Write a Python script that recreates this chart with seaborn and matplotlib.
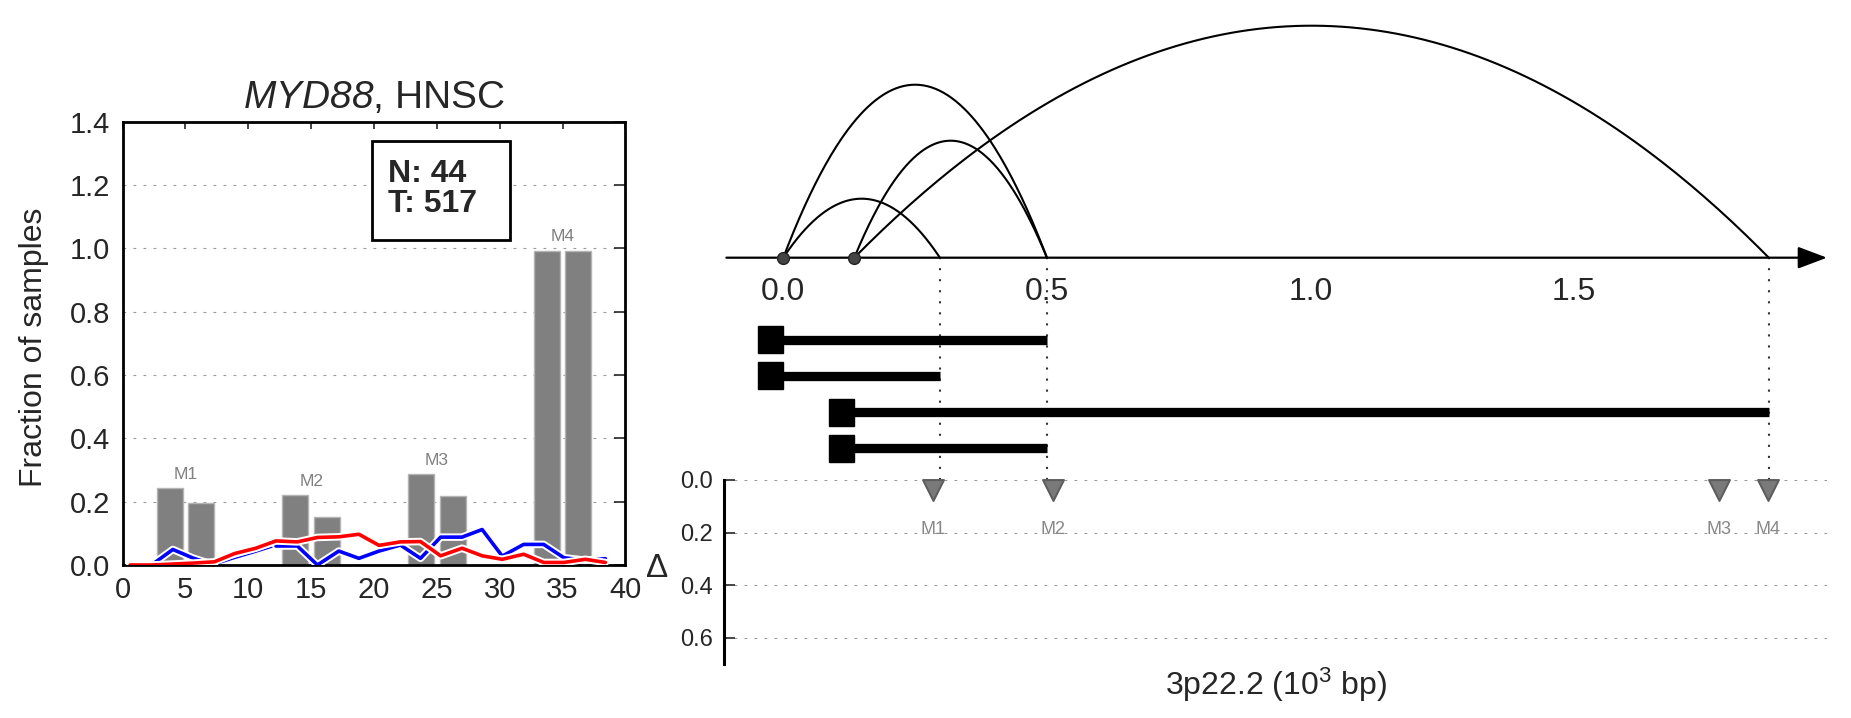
import numpy as np
import pandas as pd
import matplotlib
matplotlib.use('Agg')
import matplotlib.pyplot as plt
import matplotlib.patheffects as pe
from matplotlib.patches import Rectangle
import seaborn as sns

# ---- left panel data: fraction of samples per motif ----
bar_x = [3.75, 6.25, 13.75, 16.25, 23.75, 26.25, 33.75, 36.25]
bar_h = [0.242, 0.195, 0.221, 0.150, 0.286, 0.218, 0.993, 0.993]
motif_names = ['M1', 'M2', 'M3', 'M4']
motif_centers = [5, 15, 25, 35]

line_x = [0.6, 2.3, 4.0, 5.6, 7.3, 8.9, 10.6, 12.2, 13.9, 15.5, 17.2, 18.8,
          20.4, 22.1, 23.7, 25.3, 27.0, 28.6, 30.2, 31.9, 33.5, 35.1, 36.8, 38.4]
red_frac = [0.0, 0.0, 0.003, 0.006, 0.01, 0.036, 0.053, 0.076, 0.073, 0.087, 0.089, 0.097,
            0.062, 0.073, 0.074, 0.029, 0.053, 0.029, 0.018, 0.034, 0.008, 0.008, 0.018, 0.008]
blue_frac = [0.0, 0.0, 0.049, 0.022, 0.0, np.nan, np.nan, 0.06, 0.06, 0.0, 0.044, 0.021,
             0.044, 0.063, 0.021, 0.088, 0.088, 0.112, 0.028, 0.065, 0.065, 0.023, 0.015, 0.02]
thin_x = [7.3, 8.9, 10.6, 12.2]
thin_blue = [0.0, 0.02, 0.04, 0.06]

n_normal = 44
n_tumor = 517

# ---- right panel data: loops, transcripts, motifs (10^3 bp) ----
arc_start = [0.0, 0.0, 0.1347, 0.1347]
arc_end = [0.297, 0.5, 0.5, 1.869]
arc_height = [0.59, 1.73, 1.17, 2.32]
anchor_x = [0.0, 0.1347]
tx_start = [0.0, 0.0, 0.1347, 0.1347]
tx_end = [0.5, 0.297, 1.869, 0.5]
motif_pos = [0.283, 0.512, 1.774, 1.868]
motif_delta = [0.04, 0.04, 0.04, 0.04]

sns.set_style('white')
plt.rcParams['font.family'] = ['Liberation Sans', 'DejaVu Sans']
plt.rcParams['mathtext.fontset'] = 'custom'
plt.rcParams['mathtext.rm'] = 'Liberation Sans'
plt.rcParams['mathtext.it'] = 'Liberation Sans:italic'
plt.rcParams['mathtext.sf'] = 'Liberation Sans:italic'
plt.rcParams['mathtext.bf'] = 'Liberation Sans:bold'

fig = plt.figure(figsize=(18.51, 7.18), dpi=100)
ax = fig.add_axes([0.0662, 0.2131, 0.2717, 0.6174])
ax_a = fig.add_axes([0.3913, 0.3315, 0.5957, 0.6685])
ax_d = fig.add_axes([0.3913, 0.0752, 0.5957, 0.2563])

grid_kw = dict(color='#999999', linestyle=(0, (2.5, 6.5)), linewidth=0.8)

# ---------------- left panel ----------------
sns.barplot(x=bar_x, y=bar_h, native_scale=True, width=0.83, color='#808080',
            saturation=1, edgecolor='#b4b4b4', linewidth=1, ax=ax, zorder=2)
outline = [pe.withStroke(linewidth=5.4, foreground='white')]
ax.plot(thin_x, thin_blue, color='blue', lw=0.9, zorder=3)
ax.plot(line_x, blue_frac, color='blue', lw=2.6, path_effects=outline, zorder=4)
sns.lineplot(x=line_x, y=red_frac, color='red', lw=2.6, path_effects=outline,
             ax=ax, zorder=5)

for name, cx, i in zip(motif_names, motif_centers, range(4)):
    top = max(bar_h[2 * i], bar_h[2 * i + 1])
    ax.text(cx, top + 0.02, name, ha='center', va='bottom', fontsize=12.5, color='#808080')

ax.add_patch(Rectangle((19.87, 1.027), 10.95, 0.313, facecolor='white',
                       edgecolor='black', lw=2, zorder=6))
ax.text(21.1, 1.187, f'N: {n_normal}\nT: {n_tumor}', ha='left', va='center',
        fontsize=23, fontweight='bold', linespacing=1.0, zorder=7)

ax.set_xlim(0, 40)
ax.set_ylim(0, 1.4)
ax.set_xticks(range(0, 41, 5))
ax.set_yticks(np.arange(0, 1.41, 0.2))
ax.set_yticklabels([f'{v:.1f}' for v in np.arange(0, 1.41, 0.2)])
ax.set_axisbelow(True)
ax.yaxis.grid(True, **grid_kw)
ax.tick_params(axis='both', direction='in', top=True, right=True, labelsize=21, width=1.2)
ax.tick_params(axis='x', length=5, pad=8)
ax.tick_params(axis='y', length=8, pad=9)
for s in ax.spines.values():
    s.set_linewidth(2)
    s.set_color('black')
ax.set_xlabel('')
ax.set_ylabel('Fraction of samples', fontsize=23)
ax.yaxis.set_label_coords(-0.146, 0.49)
ax.set_title(r'$\mathsf{MYD88}$, HNSC', fontsize=28, pad=10)

# ---------------- right panel: loops & transcripts ----------------
xlim = (-0.1119, 1.9793)
ax_a.set_xlim(*xlim)
ax_a.set_ylim(-2.223, 2.577)
for s in ['top', 'right', 'left']:
    ax_a.spines[s].set_visible(False)
ax_a.spines['bottom'].set_position(('data', 0))
ax_a.spines['bottom'].set_visible(False)
ax_a.set_yticks([])
ax_a.set_xticks([0, 0.5, 1.0, 1.5])
ax_a.set_xticklabels(['0.0', '0.5', '1.0', '1.5'])
ax_a.tick_params(axis='x', direction='out', length=8, width=1, labelsize=23, pad=6)

ax_a.annotate('', xy=(xlim[1], 0), xytext=(-0.108, 0), annotation_clip=False,
              arrowprops=dict(arrowstyle='-|>,head_length=1.8,head_width=0.68',
                              mutation_scale=10, lw=1.6, color='black',
                              shrinkA=0, shrinkB=0))

for a, b, h in zip(arc_start, arc_end, arc_height):
    t = np.linspace(0, 1, 200)
    ax_a.plot(a + (b - a) * t, 4 * h * t * (1 - t), color='black', lw=1.5, zorder=3)
ax_a.plot(anchor_x, [0, 0], 'o', ms=8.5, color='#444444', mec='#222222', mew=1, zorder=4)

guides = sorted(set(arc_end))
ax_a.vlines(guides, -2.223, 0, colors='#333333', lw=1.5, linestyles=[(0, (1, 4.3))], zorder=1)

tx_rows = [-0.82, -1.181, -1.545, -1.906]
for a, b, y in zip(tx_start, tx_end, tx_rows):
    ax_a.hlines(y, a, b, colors='black', lw=6.7, capstyle='butt', zorder=3)
    ax_a.add_patch(Rectangle((a - 0.0474, y - 0.135), 0.0474, 0.27,
                             facecolor='black', edgecolor='black', zorder=3))

# ---------------- right panel: delta track ----------------
ax_d.set_xlim(*xlim)
ax_d.set_ylim(0.7, 0)
sns.scatterplot(x=motif_pos, y=motif_delta, marker='v', s=15 ** 2, color='#7a7a7a',
                edgecolor='#5e5e5e', linewidth=1.5, ax=ax_d, zorder=4, clip_on=False)
for name, x in zip(motif_names, motif_pos):
    ax_d.text(x, 0.19, name, ha='center', va='center', fontsize=13, color='#888888')

ax_d.set_yticks([0.0, 0.2, 0.4, 0.6])
ax_d.set_yticklabels(['0.0', '0.2', '0.4', '0.6'])
ax_d.set_xticks([])
ax_d.yaxis.grid(True, **grid_kw)
ax_d.set_axisbelow(True)
for s in ['top', 'right', 'bottom']:
    ax_d.spines[s].set_visible(False)
ax_d.spines['left'].set_linewidth(2.2)
ax_d.spines['left'].set_color('black')
ax_d.tick_params(axis='y', direction='in', length=8, width=1.2, labelsize=17, pad=8, left=True)
ax_d.set_ylabel('Δ', rotation=0, fontsize=24, va='center', ha='center')
ax_d.yaxis.set_label_coords(-0.0606, 0.52)
ax_d.set_xlabel(r'3p22.2 (10$^3$ bp)', fontsize=23)
ax_d.xaxis.set_label_coords(0.5, -0.01)

fig.savefig('out.png', dpi=100)
plt.close()
